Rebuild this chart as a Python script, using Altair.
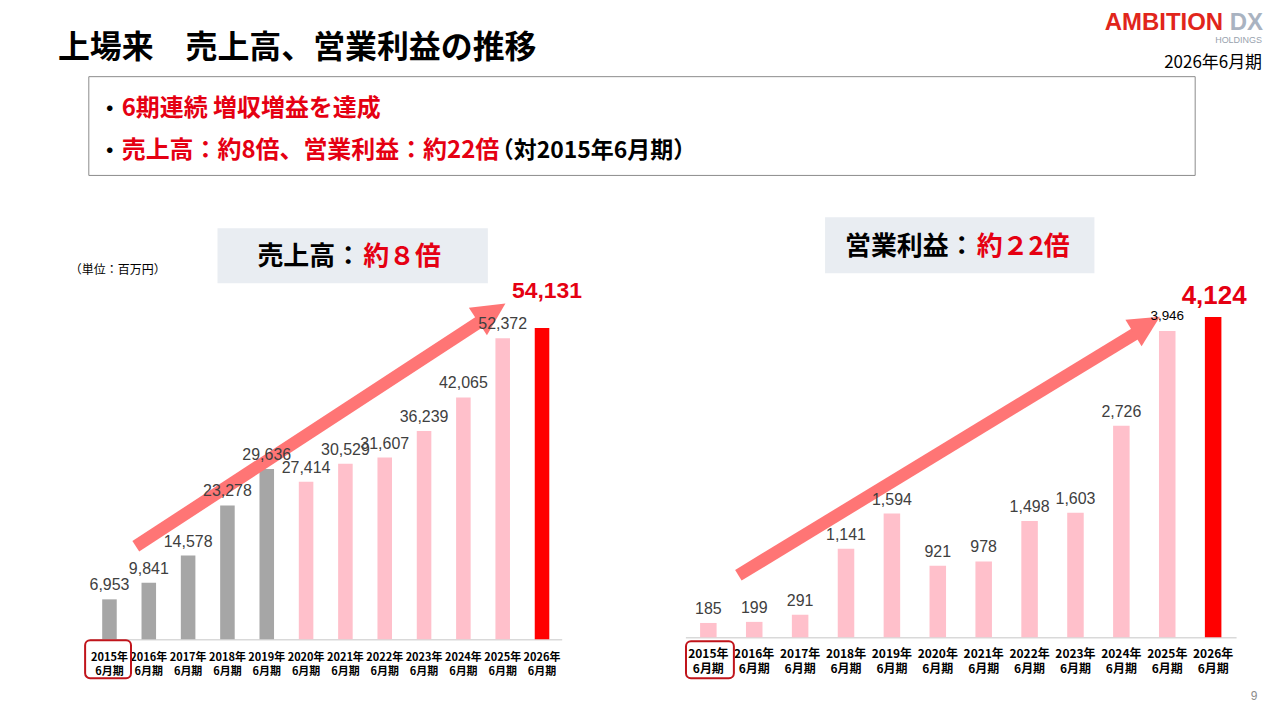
import altair as alt
import pandas as pd

# values
years = ["2015", "2016", "2017", "2018", "2019", "2020",
         "2021", "2022", "2023", "2024", "2025", "2026"]
sales = [6953, 9841, 14578, 23278, 29636, 27414, 30529, 31607, 36239, 42065, 52372, 54131]
op_income = [185, 199, 291, 1141, 1594, 921, 978, 1498, 1603, 2726, 3946, 4124]

JP = "Noto Sans CJK JP"
LAT = "Liberation Sans"
RED = "#E50012"
ARROW = "#FF7575"
PINK = "#FFC0CB"
GRAY = "#A6A6A6"

one = pd.DataFrame({"a": [0]})


def txt(s, x, y, size, color="#000000", weight="normal", align="left", font=JP):
    return alt.Chart(pd.DataFrame({"t": [s]})).mark_text(
        align=align, baseline="middle", fontSize=size, fontWeight=weight,
        color=color, font=font
    ).encode(x=alt.value(x), y=alt.value(y), text="t:N")


def box(x1, y1, x2, y2, fill="white", stroke=None, width=1, radius=0):
    opts = dict(fill=fill, cornerRadius=radius)
    if stroke:
        opts.update(stroke=stroke, strokeWidth=width)
    return alt.Chart(one).mark_rect(**opts).encode(
        x=alt.value(x1), x2=alt.value(x2), y=alt.value(y1), y2=alt.value(y2)
    )


def arrow(x1, y1, x2, y2, hx, hy, angle, size):
    body = alt.Chart(one).mark_rule(color=ARROW, strokeWidth=12.5, strokeCap="butt").encode(
        x=alt.value(x1), y=alt.value(y1), x2=alt.value(x2), y2=alt.value(y2)
    )
    head = alt.Chart(one).mark_point(
        shape="M0,-1L1,1L-1,1Z", size=size, filled=True, fill=ARROW,
        opacity=1, angle=angle, strokeWidth=0
    ).encode(x=alt.value(hx), y=alt.value(hy))
    return [body, head]


# ---- slide header ----
header = alt.layer(
    txt("上場来　売上高、営業利益の推移", 47, 39, 32, weight="bold"),
    txt("AMBITION", 1215, 14, 24, color="#E1251B", weight="bold", align="right", font=LAT),
    txt("DX", 1255, 14, 24, color="#A9B3C1", weight="bold", align="right", font=LAT),
    txt("HOLDINGS", 1254, 31, 9, color="#98A2AE", align="right", font=LAT),
    txt("2026年6月期", 1254, 54, 17, align="right"),
    box(78, 68, 1187, 167, stroke="#8C8C8C"),
    txt("・", 88, 100, 22, weight="bold"),
    txt("6期連続 増収増益を達成", 111, 100, 24, color=RED, weight="bold"),
    txt("・", 88, 143, 22, weight="bold"),
    txt("売上高：約8倍、営業利益：約22倍", 111, 143, 24, color=RED, weight="bold"),
    txt("（対2015年6月期）", 481, 143, 23, weight="bold"),
    box(207, 220, 478, 275, fill="#E9EDF2"),
    txt("売上高：", 247, 249, 26, weight="bold"),
    txt("約８倍", 353, 249, 26, color=RED, weight="bold"),
    box(816, 209, 1086, 265, fill="#E9EDF2"),
    txt("営業利益：", 836, 239, 26, weight="bold"),
    txt("約２2倍", 968, 239, 26, color=RED, weight="bold"),
    txt("（単位：百万円）", 59, 262, 12),
).properties(width=1264, height=282)


def x_enc(pi, size, line_h, pad):
    return alt.X(
        "year:N", sort=None, title=None,
        scale=alt.Scale(paddingInner=pi, paddingOuter=pi / 2),
        axis=alt.Axis(
            labelAngle=0, ticks=False, domainColor="#D9D9D9", domainWidth=1.5,
            labelExpr="[datum.label + '年', '6月期']", labelFont=JP,
            labelFontSize=size, labelFontWeight="bold", labelColor="#000000",
            labelPadding=pad, labelLineHeight=line_h, labelOverlap=False, labelBound=False,
        ),
    )


# ---- left: sales ----
sales_df = pd.DataFrame({"year": years, "value": sales})
lbase = alt.Chart(sales_df).transform_calculate(
    kind="datum.year == '2026' ? 'cur' : (datum.year < '2020' ? 'old' : 'new')"
).encode(
    x=x_enc(0.63, 11, 14, 12),
    y=alt.Y("value:Q", scale=alt.Scale(domain=[0, 60724]), axis=None),
)
l_bars = lbase.mark_bar().encode(
    color=alt.Color("kind:N", legend=None,
                    scale=alt.Scale(domain=["old", "new", "cur"], range=[GRAY, PINK, "#FF0000"]))
)
l_lbl = lbase.transform_filter("datum.year != '2026'").mark_text(
    baseline="middle", dy=-14, fontSize=16, font=LAT, color="#404040"
).encode(text=alt.Text("value:Q", format=","))
l_top = lbase.transform_filter("datum.year == '2026'").mark_text(
    baseline="middle", dy=-37, dx=5, fontSize=23, fontWeight="bold", font=LAT, color=RED
).encode(text=alt.Text("value:Q", format=","))

left = alt.layer(
    l_bars,
    *arrow(46.1, 256.7, 392, 31, 402.8, 22.4, 56.7, 1089),
    l_lbl, l_top,
    box(-4.7, 351, 41.3, 389, fill="transparent", stroke="#C0141B", width=2, radius=5),
).properties(width=473, height=350)

# ---- right: operating income ----
op_df = pd.DataFrame({"year": years, "value": op_income})
rbase = alt.Chart(op_df).transform_calculate(
    kind="datum.year == '2026' ? 'cur' : 'new'"
).encode(
    x=x_enc(0.64, 12, 15, 11),
    y=alt.Y("value:Q", scale=alt.Scale(domain=[0, 4471]), axis=None),
)
r_bars = rbase.mark_bar().encode(
    color=alt.Color("kind:N", legend=None,
                    scale=alt.Scale(domain=["new", "cur"], range=[PINK, "#FF0000"]))
)
r_lbl = rbase.transform_filter("datum.year < '2025'").mark_text(
    baseline="middle", dy=-14, fontSize=16, font=LAT, color="#404040"
).encode(text=alt.Text("value:Q", format=","))
r_2025 = rbase.transform_filter("datum.year == '2025'").mark_text(
    baseline="middle", dy=-15, fontSize=13.5, font=LAT, color="#000000"
).encode(text=alt.Text("value:Q", format=","))
r_top = rbase.transform_filter("datum.year == '2026'").mark_text(
    baseline="middle", dy=-21, dx=1, fontSize=26, fontWeight="bold", font=LAT, color=RED
).encode(text=alt.Text("value:Q", format=","))

right = alt.layer(
    r_bars,
    *arrow(53.1, 285.8, 451, 43.5, 462.4, 34.8, 58.5, 961),
    r_lbl, r_2025, r_top,
    box(0.6, 352, 48.6, 389, fill="transparent", stroke="#C0141B", width=2, radius=5),
    txt("9", 570, 407, 12, color="#8C8C8C", align="center", font=LAT),
).properties(width=552, height=348)


def spacer(w):
    return alt.Chart(one).mark_point(opacity=0).encode(
        x=alt.value(0), y=alt.value(0)
    ).properties(width=w, height=10)


row = alt.hconcat(spacer(79), left, spacer(124), right, spacing=0, bounds="flush")

chart = alt.vconcat(header, row, spacing=0, bounds="flush").properties(
    padding=0
).configure_view(stroke=None)

chart.save("out.html", embed_options={"renderer": "svg", "actions": False})
